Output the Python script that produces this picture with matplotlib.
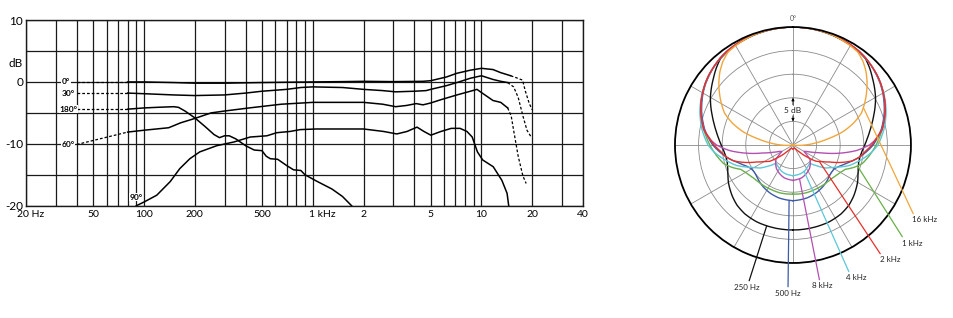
import numpy as np
import matplotlib
matplotlib.use("Agg")
import matplotlib.pyplot as plt
from matplotlib.transforms import ScaledTranslation

plt.rcParams["font.family"] = ["Lato", "DejaVu Sans"]

# ---- frequency response (Hz, dB) ----
lo_dash_f = [40, 80]
lo_dash_0 = [0, 0]
lo_dash_30 = [-1.8, -1.8]
lo_dash_180 = [-4.4, -4.4]
lo_dash_60 = [-10.1, -8.1]

f_0 = [80, 100, 150, 200, 300, 500, 700, 1000, 1500, 2000, 3000, 4500, 5000,
       6200, 7150, 8600, 10000, 11700, 13000, 14900]
db_0 = [0, 0, -0.1, -0.2, -0.2, -0.1, -0.05, 0, 0.05, 0.1, 0.05, 0.1, 0.2,
        0.8, 1.4, 1.9, 2.2, 2.0, 1.5, 1.0]
hi_f_0 = [14900, 16000, 17500, 18200, 19200, 20000]
hi_db_0 = [1.0, 0.7, 0.3, -1.5, -3.5, -4.5]

f_30 = [80, 100, 150, 200, 300, 400, 500, 700, 850, 1000, 1500, 2000, 2600,
        3100, 4000, 4700, 5000, 6200, 7150, 8600, 10000, 11700, 13000, 14300]
db_30 = [-1.8, -1.9, -2.1, -2.2, -2.1, -1.8, -1.5, -1.2, -0.9, -0.8, -0.9, -1.2,
         -1.4, -1.6, -1.5, -1.4, -1.2, -0.6, -0.1, 0.6, 1.0, 0.4, 0.1, -0.1]
hi_f_30 = [14300, 15500, 16500, 17600, 18600, 19600]
hi_db_30 = [-0.1, -0.8, -2.5, -5.5, -7.8, -8.8]

f_60 = [80, 100, 140, 165, 200, 250, 300, 420, 650, 1000, 2000, 2600, 3100,
        3600, 4100, 4500, 5000, 5700, 7150, 8600, 9400, 10100, 11700, 13000, 14300]
db_60 = [-8.1, -7.8, -7.4, -6.6, -5.9, -5.0, -4.7, -4.2, -3.6, -3.3, -3.3, -3.6,
         -4.0, -3.8, -3.5, -3.7, -3.4, -2.9, -2.1, -1.5, -1.2, -1.8, -3.0, -3.3, -4.2]
hi_f_60 = [14300, 15000, 15500, 16500, 17600, 18400]
hi_db_60 = [-4.2, -5.5, -7.8, -12, -15.2, -16.4]

f_180 = [80, 100, 120, 150, 160, 175, 200, 230, 260, 280, 300, 320, 350, 400,
         450, 500, 530, 560, 620, 700, 770, 850, 900, 1050, 1300, 1500, 1700]
db_180 = [-4.4, -4.2, -4.1, -4.0, -4.1, -4.7, -5.8, -7.2, -8.5, -9.0, -8.7, -8.7,
          -9.2, -10.3, -11.0, -11.1, -12.0, -12.4, -12.5, -13.5, -14.2, -14.3,
          -15.0, -16.0, -17.3, -18.5, -20]

f_90 = [90, 100, 119, 143, 163, 187, 214, 270, 341, 426, 535, 612, 733, 843,
        1050, 2000, 2630, 3150, 3620, 4150, 4560, 5010, 5750, 6620, 7460, 8200,
        8810, 9460, 10160, 11740, 13210, 14180, 14500]
db_90 = [-20, -19.4, -18.3, -16.1, -14, -12.4, -11.3, -10.3, -9.7, -8.9, -8.7,
         -8.2, -8.0, -7.7, -7.6, -7.6, -8.0, -8.4, -8.0, -7.3, -8.0, -8.6, -8.0,
         -7.5, -7.5, -8.0, -8.9, -11.3, -12.6, -13.7, -15.9, -18, -20]

x_major = [20, 50, 100, 200, 500, 1000, 2000, 5000, 10000, 20000, 40000]
x_major_labels = ["20 Hz", "50", "100", "200", "500", "1 kHz", "2", "5", "10", "20", "40"]
x_minor = [30, 40, 60, 70, 80, 90, 300, 400, 600, 700, 800, 900, 3000, 4000,
           6000, 7000, 8000, 9000, 30000]

# ---- polar pattern (degrees off axis, dB) ----
pol_ang = [0, 10, 20, 30, 35, 40, 45, 50, 55, 60, 65, 70, 75, 80,
           85, 90, 95, 100, 105, 110, 115, 120, 125, 130, 137, 145, 155, 165, 180]
pol_16k = [0, -0.05, -0.25, -0.7, -1.0, -1.9, -3.1, -4.5, -6.0, -7.5, -9.0, -11.3, -14, -17.5,
           -20.3, -22.5, -24.2, -25, -25, -25, -25, -25, -25, -25, -25, -25, -25, -25, -25]
pol_8k = [0, -0.05, -0.2, -0.5, -0.7, -1.0, -1.4, -1.8, -2.3, -2.9, -3.5, -4.2, -5.0, -5.8,
          -7.0, -8.8, -11.5, -15, -18.5, -20.5, -21.8, -22.3, -21.5, -20.3, -19.6, -18.9, -18.3, -17.8, -17.5]
pol_4k = [0, -0.05, -0.2, -0.5, -0.7, -1.0, -1.4, -1.8, -2.3, -2.8, -3.4, -4.0, -4.7, -5.4,
          -6.2, -7.0, -8.2, -9.6, -11, -12.3, -14, -15.5, -16.5, -18, -19.7, -19.5, -19, -18.7, -18.5]
pol_2k = [0, -0.05, -0.2, -0.5, -0.7, -1.0, -1.4, -1.8, -2.3, -2.9, -3.5, -4.2, -5.0, -5.8,
          -7.2, -8.3, -9.6, -10.6, -12, -14.2, -16.5, -18, -19, -21, -23, -24, -24.3, -24.2, -24.2]
pol_1k = [0, -0.05, -0.2, -0.5, -0.7, -1.0, -1.4, -1.8, -2.3, -2.9, -3.5, -4.2, -5.0, -5.8,
          -6.6, -7.4, -8.2, -9.0, -9.8, -11.2, -12.8, -13.4, -13.8, -14.1, -14.3, -14.4, -14.5, -14.5, -14.6]
pol_500 = [0, -0.05, -0.2, -0.5, -0.7, -1.0, -1.4, -1.9, -2.4, -3.0, -3.7, -4.4, -5.2, -6.0,
           -7.0, -8.0, -9.3, -10.6, -12, -13.3, -14.3, -14.9, -15, -14.9, -14.5, -14.1, -13.7, -13.4, -13.2]
pol_250 = [0, -0.1, -0.3, -0.6, -0.8, -1.1, -2.0, -3.0, -3.9, -4.8, -5.8, -6.8, -7.7, -8.5,
           -9.2, -9.8, -10.3, -10.6, -10.6, -10.3, -9.8, -9.2, -8.7, -8.2, -7.6, -7.2, -7.0, -7.0, -7.0]

fig = plt.figure(figsize=(9.54, 3.18), dpi=100)

# ===== frequency response =====
ax = fig.add_axes([0.0273, 0.353, 0.5839, 0.584])
ax.set_xscale("log")
ax.set_xlim(20, 40000)
ax.set_ylim(-20, 10)
ax.set_xticks(x_major)
ax.set_xticklabels(x_major_labels)
ax.set_xticks(x_minor, minor=True)
ax.set_xticklabels([], minor=True)
ax.set_yticks([-20, -10, 0, 10])
ax.set_yticklabels(["-20", "-10", "0", "10"])
ax.set_yticks([-15, -5, 5], minor=True)
ax.tick_params(which="both", length=0)
ax.tick_params(axis="x", labelsize=7.5, pad=3)
ax.tick_params(axis="y", labelsize=8.5, pad=2)
ax.grid(which="both", color="#1a1a1a", lw=0.9)
for s in ax.spines.values():
    s.set_color("#1a1a1a")
    s.set_linewidth(1.0)

# keep the number of "20 Hz" / "1 kHz" centred on its tick
for lab in ax.get_xticklabels():
    t = lab.get_text()
    if t == "20 Hz":
        lab.set_horizontalalignment("left")
        lab.set_transform(lab.get_transform() + ScaledTranslation(-6.5 / 72, 0, fig.dpi_scale_trans))
    elif t == "1 kHz":
        lab.set_horizontalalignment("left")
        lab.set_transform(lab.get_transform() + ScaledTranslation(-3 / 72, 0, fig.dpi_scale_trans))

solid = dict(color="black", lw=1.1)
dash = dict(color="black", lw=0.9, ls=(0, (2.2, 1.6)))

ax.plot(lo_dash_f, lo_dash_0, **dash)
ax.plot(lo_dash_f, lo_dash_30, **dash)
ax.plot(lo_dash_f, lo_dash_180, **dash)
ax.plot(lo_dash_f, lo_dash_60, **dash)
ax.plot(f_0, db_0, **solid)
ax.plot(f_30, db_30, **solid)
ax.plot(f_60, db_60, **solid)
ax.plot(f_180, db_180, **solid)
ax.plot(f_90, db_90, **solid)
ax.plot(hi_f_0, hi_db_0, **dash)
ax.plot(hi_f_30, hi_db_30, **dash)
ax.plot(hi_f_60, hi_db_60, **dash)

lab_kw = dict(fontsize=6, fontweight="bold", va="center", ha="left",
              bbox=dict(fc="white", ec="none", pad=0.3))
ax.text(32.6, 0, "0°", **lab_kw)
ax.text(32.6, -1.8, "30°", **lab_kw)
ax.text(31.4, -4.4, "180°", **lab_kw)
ax.text(32.6, -10.1, "60°", **lab_kw)
ax.text(82, -18.6, "90°", **lab_kw)

ax.text(-0.018, 3.0, "dB", transform=ax.get_yaxis_transform(), ha="center",
        va="center", fontsize=8.5)

# ===== polar pattern =====
axp = fig.add_axes([0.7075, 0.173, 0.2474, 0.742], projection="polar")
axp.set_theta_zero_location("N")
axp.set_theta_direction(-1)
axp.set_ylim(-25, 0)
axp.set_rticks([-20, -15, -10, -5])
axp.set_yticklabels([])
axp.set_thetagrids(range(0, 360, 30), labels=[])
axp.tick_params(length=0)
axp.grid(color="#8a8a8a", lw=0.6)
axp.spines["polar"].set_color("black")
axp.spines["polar"].set_linewidth(1.3)

ang = np.array(pol_ang, dtype=float)
full_ang = np.radians(np.concatenate([-ang[::-1], ang[1:]]))

series = [
    (pol_250, "#111111"),
    (pol_500, "#3d5aa8"),
    (pol_1k, "#6aaf4a"),
    (pol_4k, "#5cc7d8"),
    (pol_8k, "#b350b2"),
    (pol_2k, "#e4312b"),
    (pol_16k, "#f0a63c"),
]
for vals, c in series:
    v = np.array(vals, dtype=float)
    full = np.concatenate([v[::-1], v[1:]])
    ln, = axp.plot(full_ang, np.clip(full, -25, 0), color=c, lw=1.0)
    # let the polar transform follow arcs between the read points
    ln.get_path()._interpolation_steps = 24

# leader lines to the curve labels
leaders = [
    ("16 kHz", pol_16k, 62, "#f0a63c", (912, 98), "left", (0.1, 1)),
    ("1 kHz", pol_1k, 108, "#6aaf4a", (902, 75), "left", (0.1, 1)),
    ("2 kHz", pol_2k, 122, "#e4312b", (880, 58), "left", (0.1, 1)),
    ("4 kHz", pol_4k, 157, "#5cc7d8", (846, 40), "left", (0.2, 1)),
    ("8 kHz", pol_8k, 169, "#b350b2", (822, 32), "center", (0.4, 1)),
    ("500 Hz", pol_500, -176, "#3d5aa8", (788, 25), "center", (0.5, 1)),
    ("250 Hz", pol_250, -162, "#111111", (747, 31), "center", (0.55, 1)),
]
for text, vals, th, c, pos, ha, rp in leaders:
    r = np.interp(abs(th), pol_ang, vals)
    axp.annotate(text, xy=(np.radians(th), r), xytext=pos,
                 textcoords="figure pixels", ha=ha, va="center", fontsize=5.8,
                 color="#222222",
                 arrowprops=dict(arrowstyle="-", color=c, lw=0.9,
                                 shrinkA=0, shrinkB=0, relpos=rp))

axp.text(0, 1.9, "0°", ha="center", va="center", fontsize=5, color="#555555")
axp.text(0, -17.6, "5 dB", ha="center", va="center", fontsize=6, color="#222222",
         bbox=dict(fc="white", ec="none", pad=0.2))
axp.annotate("", xy=(0, -15), xytext=(0, -16.5),
             arrowprops=dict(arrowstyle="-|>", lw=0.6, color="black",
                             mutation_scale=4, shrinkA=0, shrinkB=0))
axp.annotate("", xy=(0, -20), xytext=(0, -18.8),
             arrowprops=dict(arrowstyle="-|>", lw=0.6, color="black",
                             mutation_scale=4, shrinkA=0, shrinkB=0))

fig.savefig("out.png", dpi=100)
